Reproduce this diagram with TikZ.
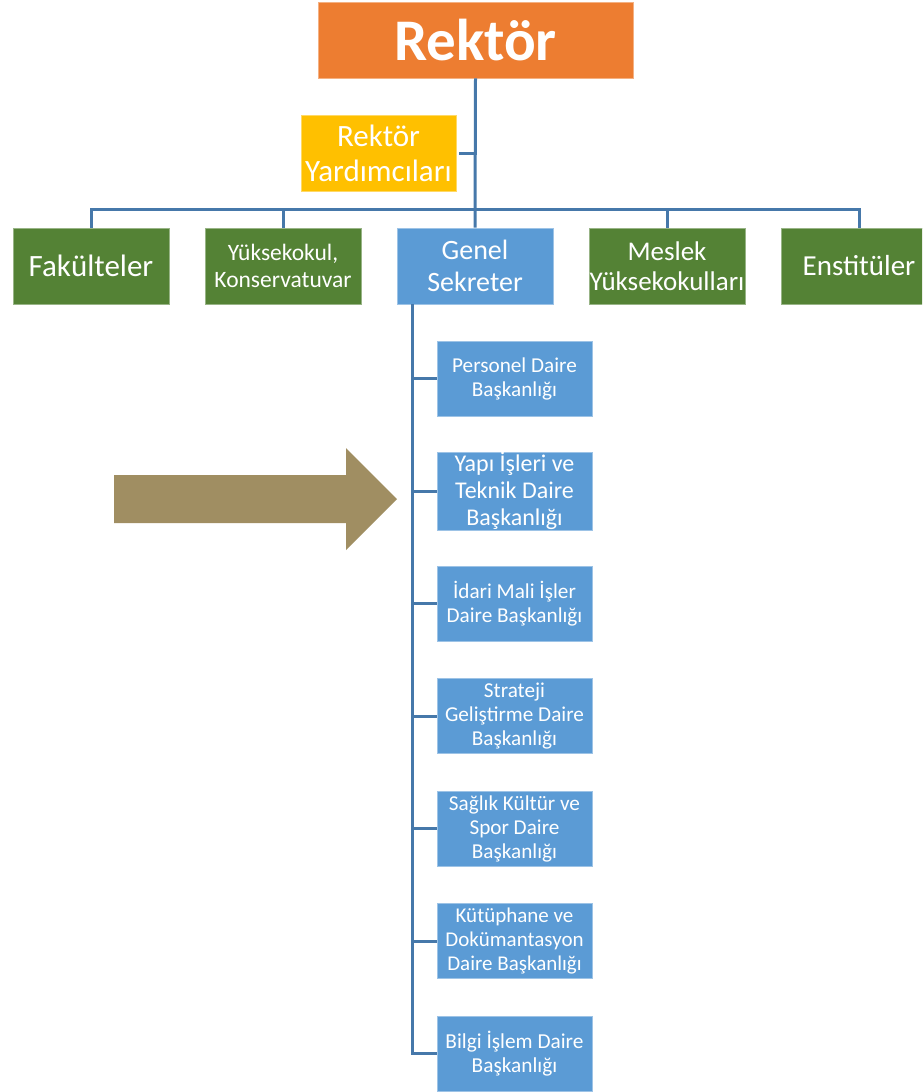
\documentclass[tikz,border=0pt]{standalone}
\usepackage{fontspec}
\setmainfont{Carlito}
\definecolor{orangeR}{RGB}{237,125,49}
\definecolor{goldY}{RGB}{255,192,0}
\definecolor{greenB}{RGB}{84,130,53}
\definecolor{blueB}{RGB}{91,155,213}
\definecolor{lineC}{RGB}{70,120,170}
\definecolor{arrowC}{RGB}{160,142,98}
\newcommand{\fs}[1]{\fontsize{#1}{\dimexpr #1pt*113/100\relax}\selectfont}
\tikzset{
  box/.style={draw=#1!60!white, line width=0.8pt, fill=#1, text=white, align=center,
    minimum width=156pt, minimum height=76pt, inner sep=0pt},
  sub/.style={box=blueB, minimum width=155pt, minimum height=75pt},
  conn/.style={draw=lineC, line width=3pt},
}
\begin{document}
\begin{tikzpicture}[x=1pt,y=-1pt]
\clip (0,0) rectangle (922,1092);
\fill[white] (0,0) rectangle (922,1092);

\node[box=orangeR, minimum width=315pt, minimum height=76pt, font=\fs{59}\bfseries] (r) at (475.5,40) {Rektör};
\node[box=goldY, minimum width=155pt, minimum height=76pt, font=\fs{31}] (ry) at (378.5,153) {Rektör\\Yardımcıları};

\node[box=greenB, font=\fs{31}] (fak) at (91,266) {Fakülteler};
\node[box=greenB, font=\fs{23.5}] (yuk) at (283,266) {Yüksekokul,\\Konservatuvar};
\node[box=blueB, font=\fs{28}] (gs) at (475,266) {Genel\\Sekreter};
\node[box=greenB, font=\fs{27}] (mes) at (667,266) {Meslek\\Yüksekokulları};
\node[box=greenB, font=\fs{29}] (ens) at (859,266) {Enstitüler};

\node[sub, font=\fs{21.2}] (b1) at (514.5,378.5) {Personel Daire\\Başkanlığı};
\node[sub, font=\fs{24}] (b2) at (514.5,491) {Yapı İşleri ve\\Teknik Daire\\Başkanlığı};
\node[sub, font=\fs{21.2}] (b3) at (514.5,603.5) {İdari Mali İşler\\Daire Başkanlığı};
\node[sub, font=\fs{21.2}] (b4) at (514.5,716) {Strateji\\Geliştirme Daire\\Başkanlığı};
\node[sub, font=\fs{21.2}] (b5) at (514.5,828.5) {Sağlık Kültür ve\\Spor Daire\\Başkanlığı};
\node[sub, font=\fs{21}] (b6) at (514.5,941) {Kütüphane ve\\Dokümantasyon\\Daire Başkanlığı};
\node[sub, font=\fs{21.3}] (b7) at (514.5,1053.5) {Bilgi İşlem Daire\\Başkanlığı};

% connectors
\coordinate (bar) at (0,209);
\coordinate (sp) at (412,0);
\draw[conn] (r.south) -- (gs.north);
\draw[conn] (ry.east) ++(3,0) -- (ry.east -| r.south);
\draw[conn] (fak.north) -- (fak.north |- bar) -- (ens.north |- bar) -- (ens.north);
\draw[conn] (yuk.north) -- (yuk.north |- bar);
\draw[conn] (mes.north) -- (mes.north |- bar);
\draw[conn] (gs.south -| sp) -- (b7.west -| sp) -- (b7.west);
\foreach \b in {b1,b2,b3,b4,b5,b6}
  \draw[conn] (\b.west -| sp) -- (\b.west);

% big arrow
\fill[arrowC] (114,475) -- (346,475) -- (346,448) -- (397,499) -- (346,550) -- (346,523) -- (114,523) -- cycle;
\end{tikzpicture}
\end{document}
